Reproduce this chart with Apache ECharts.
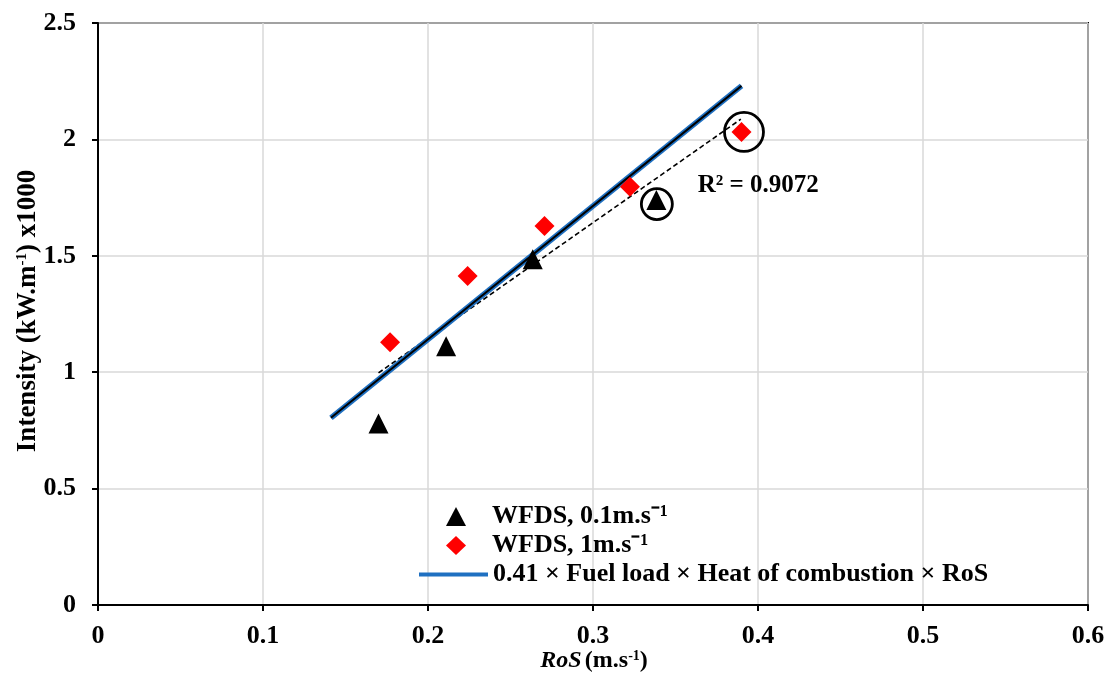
<!DOCTYPE html>
<html>
<head>
<meta charset="utf-8">
<title>Intensity vs RoS</title>
<script src="https://cdn.jsdelivr.net/npm/echarts@6/dist/echarts.min.js"></script>
<style>
  html, body { margin: 0; padding: 0; background: #fff; }
  #chart { width: 1109px; height: 677px; }
</style>
</head>
<body>
<div id="chart"></div>
<script>
// WFDS runs at 0.1 m/s wind
const rosSlow = [0.170, 0.211, 0.2635, 0.3384];
const intensitySlow = [0.78, 1.112, 1.485, 1.74];

// WFDS runs at 1 m/s wind
const rosFast = [0.177, 0.224, 0.2706, 0.3224, 0.390];
const intensityFast = [1.129, 1.413, 1.628, 1.797, 2.032];

// Model line (0.41 x fuel load x heat of combustion x RoS), end points
const modelRoS = [0.1412, 0.390];
const modelIntensity = [0.804, 2.230];

// Linear fit through the WFDS points, end points
const fitRoS = [0.170, 0.3896];
const fitIntensity = [0.997, 2.087];
const fitLabel = 'R² = 0.9072';
const fitLabelAt = [0.3635, 1.803];

// Circled runs
const circleRoS = [0.3387, 0.3915];
const circleIntensity = [1.722, 2.032];

const xTicks = [0, 0.1, 0.2, 0.3, 0.4, 0.5, 0.6];
const yTicks = [0, 0.5, 1, 1.5, 2, 2.5];

const seriesNames = ['WFDS, 0.1m.s⁻¹', 'WFDS, 1m.s⁻¹', '0.41 × Fuel load × Heat of combustion × RoS'];

const zip = (a, b) => a.map((v, i) => [v, b[i]]);

const FONT = '"Liberation Serif", "Times New Roman", serif';
const MODEL_BLUE = '#1f70c1';

const chart = echarts.init(document.getElementById('chart'), null, { renderer: 'canvas' });

const legendText = {
  fontFamily: FONT, fontWeight: 'bold', fontSize: 26, color: '#000', lineHeight: 29
};

chart.setOption({
  animation: false,
  backgroundColor: '#fff',
  grid: {
    left: 98, right: 21, top: 23, bottom: 72,
    show: true, borderColor: '#000', borderWidth: 2, backgroundColor: 'transparent'
  },
  xAxis: {
    type: 'value',
    min: xTicks[0], max: xTicks[xTicks.length - 1], interval: 0.1,
    axisLine: { show: true, onZero: false, lineStyle: { color: '#000', width: 2 } },
    axisTick: { show: true, inside: false, length: 6, lineStyle: { color: '#000', width: 2 } },
    splitLine: { show: true, lineStyle: { color: '#d9d9d9', width: 1.5 } },
    axisLabel: { margin: 18, color: '#000', fontFamily: FONT, fontWeight: 'bold', fontSize: 26 }
  },
  yAxis: {
    type: 'value',
    min: yTicks[0], max: yTicks[yTicks.length - 1], interval: 0.5,
    axisLine: { show: true, onZero: false, lineStyle: { color: '#000', width: 2 } },
    axisTick: { show: true, inside: false, length: 6, lineStyle: { color: '#000', width: 2 } },
    splitLine: { show: true, lineStyle: { color: '#d9d9d9', width: 1.5 } },
    axisLabel: { margin: 22, color: '#000', fontFamily: FONT, fontWeight: 'bold', fontSize: 26 }
  },
  legend: [
    {
      // marker entries
      orient: 'vertical',
      left: 441,
      top: 497,
      itemWidth: 20,
      itemHeight: 19,
      itemGap: 0,
      data: [seriesNames[0], seriesNames[1]],
      textStyle: Object.assign({ padding: [0, 0, 0, 21] }, legendText)
    },
    {
      // model line entry
      orient: 'vertical',
      left: 414,
      top: 555,
      itemWidth: 69,
      itemHeight: 4,
      itemGap: 0,
      data: [{ name: seriesNames[2], icon: 'rect' }],
      itemStyle: { color: MODEL_BLUE },
      textStyle: legendText
    }
  ],
  graphic: [
    {
      type: 'text',
      x: 28, y: 311,
      rotation: Math.PI / 2,
      silent: true,
      style: {
        text: '{n|Intensity (kW.m}{s|-1}{n|) x1000}',
        align: 'center',
        verticalAlign: 'middle',
        rich: {
          n: { fontFamily: FONT, fontWeight: 'bold', fontSize: 27, fill: '#000' },
          s: { fontFamily: FONT, fontWeight: 'bold', fontSize: 15, fill: '#000', padding: [0, 0, 11, 0] }
        }
      }
    },
    {
      type: 'text',
      x: 594, y: 661,
      silent: true,
      style: {
        text: '{i|RoS} {n|(m.s}{s|-1}{n|)}',
        align: 'center',
        verticalAlign: 'middle',
        rich: {
          i: { fontFamily: FONT, fontWeight: 'bold', fontStyle: 'italic', fontSize: 24, fill: '#000' },
          n: { fontFamily: FONT, fontWeight: 'bold', fontSize: 24, fill: '#000' },
          s: { fontFamily: FONT, fontWeight: 'bold', fontSize: 14, fill: '#000', padding: [0, 0, 10, 0] }
        }
      }
    }
  ],
  series: [
    {
      name: seriesNames[2],
      type: 'line',
      data: zip(modelRoS, modelIntensity),
      showSymbol: false,
      symbol: 'none',
      lineStyle: { color: MODEL_BLUE, width: 5.5 },
      itemStyle: { color: MODEL_BLUE },
      z: 3
    },
    {
      name: 'model-core',
      type: 'line',
      data: zip(modelRoS, modelIntensity),
      showSymbol: false,
      symbol: 'none',
      lineStyle: { color: '#000', width: 2 },
      z: 4,
      silent: true
    },
    {
      name: 'fit',
      type: 'line',
      data: zip(fitRoS, fitIntensity),
      showSymbol: false,
      symbol: 'none',
      lineStyle: { color: '#000', width: 1.6, type: [5, 3] },
      z: 2,
      silent: true
    },
    {
      name: seriesNames[0],
      type: 'scatter',
      data: zip(rosSlow, intensitySlow),
      symbol: 'triangle',
      symbolSize: 20,
      itemStyle: { color: '#000', opacity: 1 },
      z: 5
    },
    {
      name: seriesNames[1],
      type: 'scatter',
      data: zip(rosFast, intensityFast),
      symbol: 'diamond',
      symbolSize: 20,
      itemStyle: { color: '#ff0000', opacity: 1 },
      z: 5
    },
    {
      name: 'circled',
      type: 'scatter',
      data: zip(circleRoS, circleIntensity),
      symbol: 'circle',
      symbolSize: (v, p) => (p.dataIndex === 0 ? 31 : 39),
      itemStyle: { color: 'rgba(0,0,0,0)', borderColor: '#000', borderWidth: 2.8, opacity: 1 },
      z: 6,
      silent: true
    },
    {
      name: 'fit-label',
      type: 'scatter',
      data: [fitLabelAt],
      symbolSize: 0,
      silent: true,
      itemStyle: { opacity: 1 },
      label: {
        show: true,
        position: 'right',
        distance: 0,
        formatter: fitLabel,
        fontFamily: FONT, fontWeight: 'bold', fontSize: 25, color: '#000', opacity: 1
      },
      z: 7
    }
  ]
});
</script>
</body>
</html>
